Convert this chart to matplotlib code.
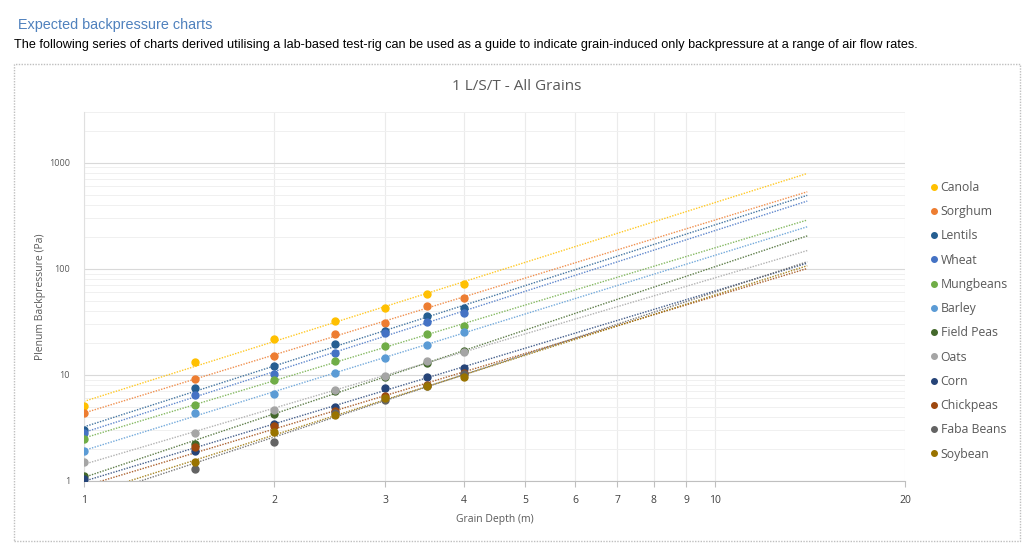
import numpy as np
import matplotlib
matplotlib.use("Agg")
import matplotlib.pyplot as plt
from matplotlib.patches import Rectangle
from matplotlib.ticker import FixedLocator, NullFormatter

# grain depth (m) at which backpressure was measured
depth = [1, 1.5, 2, 2.5, 3, 3.5, 4]

grains = ["Canola", "Sorghum", "Lentils", "Wheat", "Mungbeans", "Barley",
          "Field Peas", "Oats", "Corn", "Chickpeas", "Faba Beans", "Soybean"]

canola = [5.1, 13.1, 22.0, 32.5, 43.0, 58.0, 72.0]
sorghum = [4.35, 9.2, 15.0, 24.4, 31.0, 44.8, 52.5]
lentils = [3.0, 7.6, 12.1, 19.6, 26.0, 35.5, 42.5]
wheat = [2.85, 6.4, 10.2, 16.2, 24.7, 31.4, 38.7]
mungbeans = [2.5, 5.2, 9.0, 13.4, 18.7, 24.2, 29.0]
barley = [1.9, 4.4, 6.6, 10.4, 14.5, 19.2, 25.5]
field_peas = [1.12, 2.25, 4.26, 7.1, 9.6, 12.9, 16.8]
oats = [1.5, 2.84, 4.65, 7.2, 9.8, 13.5, 16.5]
corn = [1.04, 1.92, 3.45, 5.0, 7.6, 9.6, 11.6]
chickpeas = [0.8, 2.08, 3.28, 4.6, 6.3, 8.05, 10.5]
faba_beans = [0.75, 1.29, 2.32, 4.4, 5.8, 7.9, 10.1]
soybean = [0.72, 1.52, 2.88, 4.2, 6.0, 7.8, 9.5]

series = [canola, sorghum, lentils, wheat, mungbeans, barley,
          field_peas, oats, corn, chickpeas, faba_beans, soybean]

colors = ["#FFC000", "#ED7D31", "#255E91", "#4472C4", "#70AD47", "#5B9BD5",
          "#43682B", "#A5A5A5", "#264478", "#9E480E", "#636363", "#997300"]

# power trendline forecast forward 10 m
trend_end = 14

plt.rcParams['font.family'] = ['Open Sans', 'DejaVu Sans']

W, H = 1024, 554
fig = plt.figure(figsize=(W / 100, H / 100), dpi=100)

# page text above the chart
fig.text(18 / W, 1 - 25 / H, "Expected backpressure charts", color="#4F81BD",
         fontsize=10.4, family=['Liberation Sans'], va="center")
fig.text(14 / W, 1 - 45 / H,
         "The following series of charts derived utilising a lab-based test-rig can be used "
         "as a guide to indicate grain-induced only backpressure at a range of air flow rates.",
         color="black", fontsize=9.05, family=['Liberation Sans'], va="center")

# dotted chart border
fig.patches.append(Rectangle((14 / W, 1 - 541 / H), 1006 / W, 477 / H,
                             transform=fig.transFigure, fill=False,
                             edgecolor="#BFBFBF", linestyle=(0, (1, 1)), linewidth=1))

fig.text(517 / W, 1 - 86 / H, "1 L/S/T - All Grains", ha="center", va="center",
         color="#595959", fontsize=11)

ax = fig.add_axes([84 / W, 1 - 481 / H, (905 - 84) / W, (481 - 112) / H])
ax.set_xscale("log")
ax.set_yscale("log")
ax.set_xlim(1, 20)
ax.set_ylim(1, 3000)

xs = np.geomspace(1, trend_end, 60)
for name, vals, c in zip(grains, series, colors):
    x = np.array(depth)
    y = np.array(vals)
    k, b = np.polyfit(np.log(x), np.log(y), 1)
    ax.plot(xs, np.exp(b) * xs ** k, linestyle=(0, (1, 1)), color=c, linewidth=1.0,
            alpha=0.85, zorder=2)
    ax.plot(x, y, "o", color=c, markersize=5, label=name, zorder=3)

xticks = [1, 2, 3, 4, 5, 6, 7, 8, 9, 10, 20]
ax.xaxis.set_major_locator(FixedLocator(xticks))
ax.xaxis.set_minor_locator(FixedLocator([]))
ax.set_xticklabels([str(t) for t in xticks])
ax.xaxis.set_minor_formatter(NullFormatter())

ax.yaxis.set_major_locator(FixedLocator([1, 10, 100, 1000]))
ax.set_yticklabels(["1", "10", "100", "1000"])
yminor = [m * 10 ** e for e in range(0, 4) for m in range(2, 10) if m * 10 ** e <= 3000]
ax.yaxis.set_minor_locator(FixedLocator(yminor))
ax.yaxis.set_minor_formatter(NullFormatter())

ax.grid(True, which="major", axis="y", color="#D9D9D9", linewidth=0.8)
ax.grid(True, which="major", axis="x", color="#EBEBEB", linewidth=0.8)
ax.grid(True, which="minor", axis="y", color="#F0F0F0", linewidth=0.7)
ax.set_axisbelow(True)

for s in ["top", "right"]:
    ax.spines[s].set_visible(False)
ax.spines["left"].set_color("#E0E0E0")
ax.spines["bottom"].set_color("#BFBFBF")
ax.tick_params(axis="x", which="major", length=4, color="#BFBFBF", labelsize=7.5,
               labelcolor="#404040", pad=6)
ax.tick_params(axis="y", which="major", length=0, labelsize=6.5, labelcolor="#595959", pad=10)
ax.tick_params(axis="y", which="minor", length=0)

ax.set_xlabel("Grain Depth (m)", fontsize=7.5, color="#595959", labelpad=6)
ax.set_ylabel("Plenum Backpressure (Pa)", fontsize=7.5, color="#595959", labelpad=2)

leg = fig.legend(loc="upper left", bbox_to_anchor=(926 / W, 1 - 176 / H), frameon=False,
                 fontsize=8.8, labelcolor="#595959", markerscale=0.8, handlelength=0.5,
                 handletextpad=0.3, labelspacing=0.92, borderaxespad=0)

fig.savefig("out.png", dpi=100)
